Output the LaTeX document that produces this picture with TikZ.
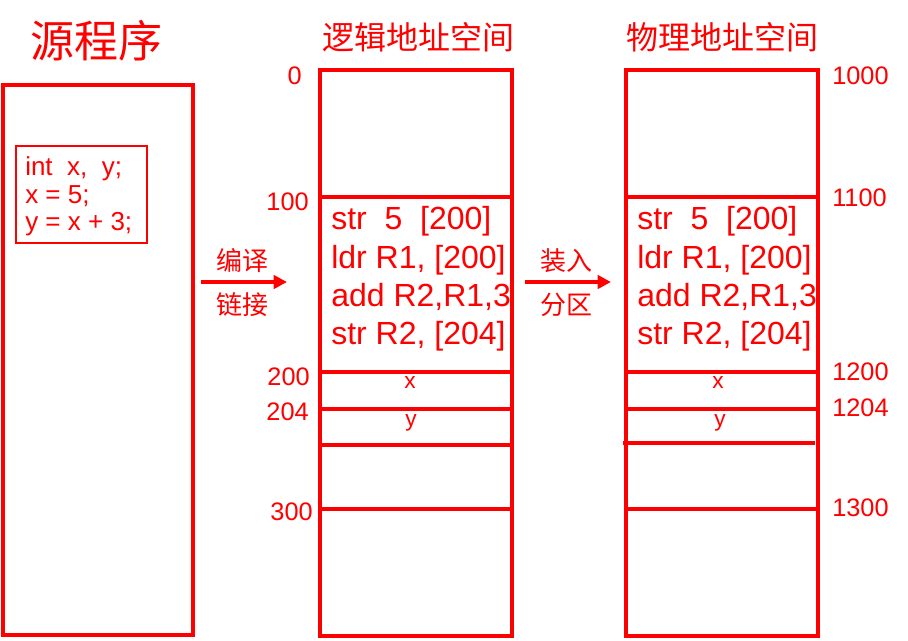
\documentclass[tikz,border=0pt]{standalone}
\usepackage{fontspec}
\setmainfont{Liberation Sans}
\newfontfamily\cjk{Noto Sans CJK SC}
\usetikzlibrary{arrows.meta}
\definecolor{rd}{HTML}{FF0000}
\begin{document}
\begin{tikzpicture}[x=0.75pt,y=-0.75pt,
  box/.style={draw=rd,line width=3.3pt},
  sep/.style={draw=rd,line width=3.3pt},
  code/.style={anchor=base west,inner sep=0pt,text=rd,font=\fontsize{24}{29}\selectfont},
  small/.style={anchor=base west,inner sep=0pt,text=rd,font=\fontsize{19.5}{21}\selectfont},
  addrl/.style={anchor=east,inner sep=0pt,text=rd,font=\fontsize{19}{21}\selectfont},
  addrr/.style={anchor=west,inner sep=0pt,text=rd,font=\fontsize{19}{21}\selectfont},
  var/.style={inner sep=0pt,text=rd,font=\fontsize{17}{19}\selectfont},
  title/.style={inner sep=0pt,text=rd,font=\cjk\fontsize{24}{26}\selectfont},
  act/.style={inner sep=0pt,text=rd,font=\cjk\fontsize{19.5}{21}\selectfont},
  arr/.style={draw=rd,line width=3pt,-{Triangle[length=10pt,width=10pt]}}]
\useasboundingbox (0,0) rectangle (908,640);
% source program
\node[inner sep=0pt,text=rd,font=\cjk\fontsize{33}{36}\selectfont] (srct) at (97,41) {源程序};
\draw[box] (3,85) rectangle (193,635);
\draw[draw=rd,line width=0.8pt] (16,146) rectangle (147,243);
\node[small] (s1) at (25,175) {int\ \ x,\ \ y;};
\node[small] (s2) at (25,203) {x = 5;};
\node[small] (s3) at (25,230) {y = x + 3;};
% logical space
\node[title] (lt) at (418,37) {逻辑地址空间};
\draw[box] (320,70) rectangle (512,636);
\foreach \yy in {197,372,409,445,509} \draw[sep] (320,\yy) -- (512,\yy);
\node[code] (l1) at (331,229) {str\ \ 5\ \ [200]};
\node[code] (l2) at (331,268) {ldr R1, [200]};
\node[code] (l3) at (331,306) {add R2,R1,3};
\node[code] (l4) at (331,344) {str R2, [204]};
\node[var] (lx) at (410,383) {x};
\node[var] (ly) at (411,423) {y};
\node[addrl] (a0) at (302,76) {0};
\node[addrl] (a100) at (309,202) {100};
\node[addrl] (a200) at (310,377) {200};
\node[addrl] (a204) at (309,412) {204};
\node[addrl] (a300) at (313,512) {300};
% physical space
\node[title] (pt) at (722,37) {物理地址空间};
\draw[box] (626,70) rectangle (818,636);
\foreach \yy in {197,372,409,509} \draw[sep] (626,\yy) -- (818,\yy);
\draw[sep] (623,443) -- (815,443);
\node[code] (p1) at (637,229) {str\ \ 5\ \ [200]};
\node[code] (p2) at (637,268) {ldr R1, [200]};
\node[code] (p3) at (637,306) {add R2,R1,3};
\node[code] (p4) at (637,344) {str R2, [204]};
\node[var] (px) at (718,383) {x};
\node[var] (py) at (720,423) {y};
\node[addrr] (b1000) at (832,76) {1000};
\node[addrr] (b1100) at (832,198) {1100};
\node[addrr] (b1200) at (832,372) {1200};
\node[addrr] (b1204) at (832,408) {1204};
\node[addrr] (b1300) at (832,508) {1300};
% arrows
\coordinate (a1s) at (201,282);
\coordinate (a1e) at (287,282);
\draw[arr] (a1s) -- (a1e);
\node[act] (c1) at (242,261) {编译};
\node[act] (c2) at (242,305) {链接};
\coordinate (a2s) at (525,282);
\coordinate (a2e) at (611,282);
\draw[arr] (a2s) -- (a2e);
\node[act] (c3) at (566,261) {装入};
\node[act] (c4) at (566,305) {分区};
\end{tikzpicture}
\end{document}
